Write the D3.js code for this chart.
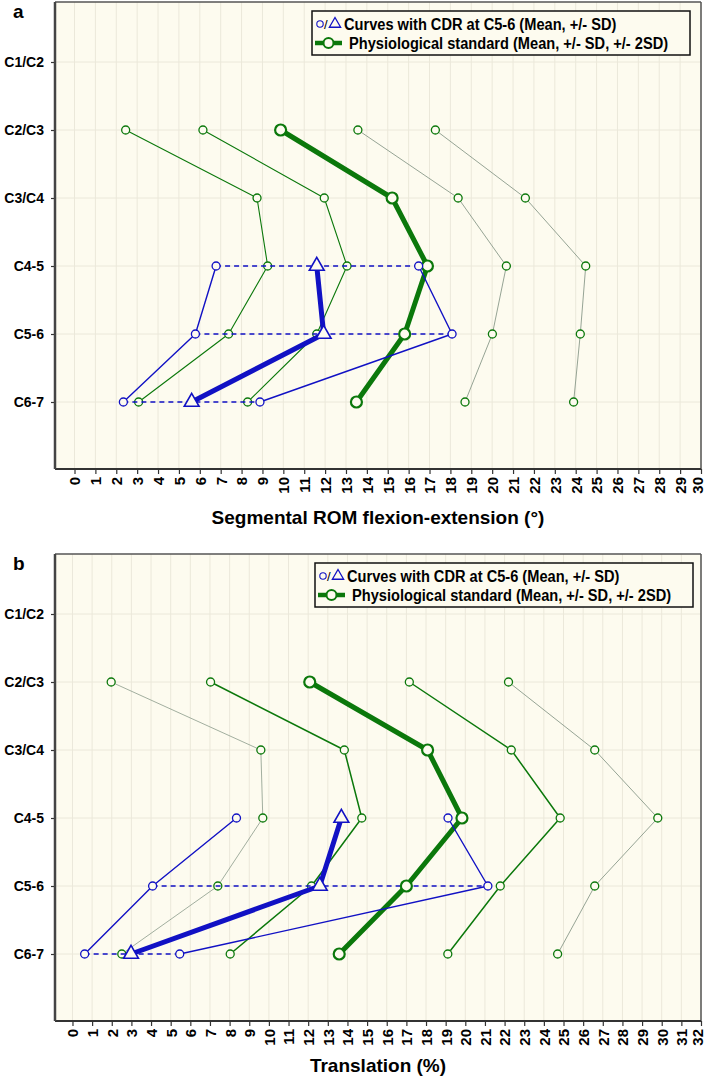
<!DOCTYPE html>
<html><head><meta charset="utf-8">
<script src="https://cdn.jsdelivr.net/npm/d3@7"></script>
<style>
body{margin:0;background:#fff;}
svg text{font-family:"Liberation Sans Narrow","Arial Narrow","Liberation Sans",Arial,sans-serif;font-weight:bold;fill:#000;}
</style></head><body>
<svg id="chart" width="708" height="1078"></svg>
<script>
// ---------- DATA ----------
const levels = ["C1/C2","C2/C3","C3/C4","C4-5","C5-6","C6-7"];
const physLevels = ["C2/C3","C3/C4","C4-5","C5-6","C6-7"];
const cdrLevels = ["C4-5","C5-6","C6-7"];

// Panel a: segmental ROM flexion-extension (deg)
const romPhysMean     = [9.87, 15.21, 16.90, 15.81, 13.50];
const romPhysMinusSD  = [6.15, 11.96, 13.05, 11.60, 8.29];
const romPhysPlusSD   = [13.57, 18.37, 20.68, 20.01, 18.70];
const romPhysMinus2SD = [2.45, 8.74, 9.25, 7.38, 3.07];
const romPhysPlus2SD  = [17.28, 21.59, 24.48, 24.22, 23.90];
const romCdrMean      = [11.60, 11.93, 5.61];
const romCdrMinusSD   = [6.78, 5.79, 2.34];
const romCdrPlusSD    = [16.48, 18.08, 8.88];
const romSdBarLevels  = ["C4-5","C5-6","C6-7"];
const romTicks = d3.range(0, 31);

// Panel b: translation (%)
const trPhysMean     = [12.08, 18.08, 19.83, 17.00, 13.58];
const trPhysMinusSD  = [7.03, 13.84, 14.73, 12.17, 8.03];
const trPhysPlusSD   = [17.15, 22.34, 24.83, 21.78, 19.11];
const trPhysMinus2SD = [1.97, 9.59, 9.69, 7.40, 2.51];
const trPhysPlus2SD  = [22.20, 26.59, 29.80, 26.59, 24.70];
const trCdrMean      = [13.69, 12.59, 2.98];
const trCdrMinusSD   = [8.35, 4.08, 0.62];
const trCdrPlusSD    = [19.12, 21.15, 5.46];
const trSdBarLevels  = ["C5-6","C6-7"];
const trTicks = d3.range(0, 33);

const legendCdr = "Curves with CDR at C5-6 (Mean, +/- SD)";
const legendPhys = "Physiological standard (Mean, +/- SD, +/- 2SD)";

// ---------- STYLE ----------
const BG = "#fdfbef", GRID = "#ebe8da", AXIS = "#555";
const BLUE = "#1111c4", GREEN = "#0b780b", GREY2 = "#8a9a8a";

const svg = d3.select("#chart");

function drawPanel(cfg) {
  const L = 55, R = 701, T = cfg.top, B = cfg.top + 467;
  const x = d3.scaleLinear().domain([cfg.xmin, cfg.xmax]).range([L, R]);
  const y = d3.scalePoint().domain(levels).range([T + 60, T + 400]);
  const g = svg.append("g");

  g.append("rect").attr("x", L).attr("y", T).attr("width", R - L).attr("height", B - T).attr("fill", BG);
  // grid
  g.append("g").selectAll("line").data(cfg.ticks).join("line")
    .attr("x1", d => x(d)).attr("x2", d => x(d)).attr("y1", T).attr("y2", B)
    .attr("stroke", GRID).attr("stroke-width", 1);
  g.append("g").selectAll("line").data(levels).join("line")
    .attr("x1", L).attr("x2", R).attr("y1", d => y(d)).attr("y2", d => y(d))
    .attr("stroke", GRID).attr("stroke-width", 1);

  // axes
  const xAxis = d3.axisBottom(x).tickValues(cfg.ticks).tickSize(5).tickFormat(d3.format("d"));
  const xg = g.append("g").attr("transform", `translate(0,${B})`).call(xAxis);
  xg.select(".domain").remove();
  xg.selectAll(".tick line").attr("stroke", "#333").attr("stroke-width", 1.2);
  xg.selectAll(".tick text").attr("transform", "rotate(-90)").attr("text-anchor", "end")
    .attr("x", -8).attr("y", 0).attr("dy", "0.36em").style("font-size", "15px").attr("fill", "#000");
  // keep the last label inside the picture
  xg.selectAll(".tick text").filter(d => d === cfg.xmax).attr("dy", "0.1em");

  const yAxis = d3.axisLeft(y).tickSize(4);
  const yg = g.append("g").attr("transform", `translate(${L},0)`).call(yAxis);
  yg.select(".domain").remove();
  yg.selectAll(".tick line").attr("stroke", "#333").attr("stroke-width", 1.2);
  yg.selectAll(".tick text").attr("x", -11).style("font-size", "14px").attr("fill", "#000");

  // frame
  g.append("line").attr("x1", L).attr("x2", R).attr("y1", T).attr("y2", T).attr("stroke", AXIS).attr("stroke-width", 1.5);
  g.append("line").attr("x1", R).attr("x2", R).attr("y1", T).attr("y2", B).attr("stroke", AXIS).attr("stroke-width", 1.5);
  g.append("line").attr("x1", L).attr("x2", R).attr("y1", B).attr("y2", B).attr("stroke", "#333").attr("stroke-width", 2);
  g.append("line").attr("x1", L).attr("x2", L).attr("y1", T).attr("y2", B).attr("stroke", "#444").attr("stroke-width", 2.5);

  const line = d3.line().x(d => x(d[0])).y(d => y(d[1]));
  const pts = (vals, lv) => vals.map((v, i) => [v, lv[i]]);

  function series(vals, lv, color, width, r, sw, mcolor) {
    g.append("path").attr("d", line(pts(vals, lv))).attr("fill", "none")
      .attr("stroke", color).attr("stroke-width", width).attr("stroke-linejoin", "round");
    g.append("g").selectAll("circle").data(pts(vals, lv)).join("circle")
      .attr("cx", d => x(d[0])).attr("cy", d => y(d[1])).attr("r", r)
      .attr("fill", BG).attr("stroke", mcolor || color).attr("stroke-width", sw);
  }

  // physiological
  series(cfg.m2sd, physLevels, cfg.c2sdL, cfg.w2sdL, 4, 1.3, GREEN);
  series(cfg.p2sd, physLevels, GREY2, 0.9, 4, 1.3, GREEN);
  series(cfg.m1sd, physLevels, GREEN, cfg.w1sd, 4, 1.3, GREEN);
  series(cfg.p1sd, physLevels, cfg.c1sdR, cfg.w1sdR, 4, 1.3, GREEN);

  // CDR SD bars (dashed)
  const bars = cdrLevels.map((lv, i) => ({lv, lo: cfg.cm1[i], hi: cfg.cp1[i]})).filter(d => cfg.bars.includes(d.lv));
  g.append("g").selectAll("line").data(bars).join("line")
    .attr("x1", d => x(d.lo)).attr("x2", d => x(d.hi)).attr("y1", d => y(d.lv)).attr("y2", d => y(d.lv))
    .attr("stroke", BLUE).attr("stroke-width", 1.6).attr("stroke-dasharray", "5,4");

  series(cfg.mean, physLevels, GREEN, 5, 5.5, 2.2);

  series(cfg.cm1, cdrLevels, BLUE, 1.4, 4, 1.3);
  series(cfg.cp1, cdrLevels, BLUE, 1.4, 4, 1.3);
  g.append("path").attr("d", line(pts(cfg.cmean, cdrLevels))).attr("fill", "none")
    .attr("stroke", BLUE).attr("stroke-width", 5).attr("stroke-linejoin", "round");
  g.append("g").selectAll("path.tri").data(pts(cfg.cmean, cdrLevels)).join("path")
    .attr("transform", d => `translate(${x(d[0])},${y(d[1])})`)
    .attr("d", d3.symbol(d3.symbolTriangle, 95)()).attr("fill", BG)
    .attr("stroke", BLUE).attr("stroke-width", 1.6);

  // legend
  const lg = g.append("g");
  const lx = cfg.legendX, ly = T + 9;
  lg.append("rect").attr("x", lx).attr("y", ly).attr("width", 378).attr("height", 44)
    .attr("fill", BG).attr("stroke", "#111").attr("stroke-width", 1.5);
  lg.append("circle").attr("cx", lx + 8).attr("cy", ly + 13).attr("r", 3.2).attr("fill", "none").attr("stroke", BLUE).attr("stroke-width", 1.1);
  lg.append("text").attr("x", lx + 12).attr("y", ly + 18).text("/").style("font-size", "13px").style("font-weight", "normal").attr("fill", BLUE);
  lg.append("path").attr("transform", `translate(${lx + 23},${ly + 13})`).attr("d", d3.symbol(d3.symbolTriangle, 55)())
    .attr("fill", "none").attr("stroke", BLUE).attr("stroke-width", 1.3);
  lg.append("text").attr("transform", `translate(${lx + 32},${ly + 19}) scale(0.86,1)`).text(legendCdr).style("font-size", "17px");
  lg.append("line").attr("x1", lx + 3).attr("x2", lx + 30).attr("y1", ly + 32).attr("y2", ly + 32).attr("stroke", GREEN).attr("stroke-width", 4.5);
  lg.append("circle").attr("cx", lx + 16.5).attr("cy", ly + 32).attr("r", 5).attr("fill", BG).attr("stroke", GREEN).attr("stroke-width", 2);
  lg.append("text").attr("transform", `translate(${lx + 37},${ly + 38}) scale(0.86,1)`).text(legendPhys).style("font-size", "17px");

  // labels
  svg.append("text").attr("x", 13).attr("y", T + 16).text(cfg.label).style("font-size", "19px");
  svg.append("text").attr("x", (L + R) / 2).attr("y", cfg.titleY).attr("text-anchor", "middle")
    .text(cfg.title).style("font-size", "19px");
}

drawPanel({
  top: 2, xmin: -0.934, xmax: 30, ticks: romTicks, label: "a", legendX: 312,
  title: "Segmental ROM flexion-extension (°)", titleY: 524,
  mean: romPhysMean, m1sd: romPhysMinusSD, p1sd: romPhysPlusSD, m2sd: romPhysMinus2SD, p2sd: romPhysPlus2SD,
  cmean: romCdrMean, cm1: romCdrMinusSD, cp1: romCdrPlusSD, bars: romSdBarLevels,
  c2sdL: GREEN, w2sdL: 1.1, w1sd: 1.1, c1sdR: GREY2, w1sdR: 0.9
});
drawPanel({
  top: 554, xmin: -0.89, xmax: 32, ticks: trTicks, label: "b", legendX: 315,
  title: "Translation (%)", titleY: 1072,
  mean: trPhysMean, m1sd: trPhysMinusSD, p1sd: trPhysPlusSD, m2sd: trPhysMinus2SD, p2sd: trPhysPlus2SD,
  cmean: trCdrMean, cm1: trCdrMinusSD, cp1: trCdrPlusSD, bars: trSdBarLevels,
  c2sdL: GREY2, w2sdL: 0.8, w1sd: 1.5, c1sdR: GREEN, w1sdR: 1.5
});
</script>
</body></html>
